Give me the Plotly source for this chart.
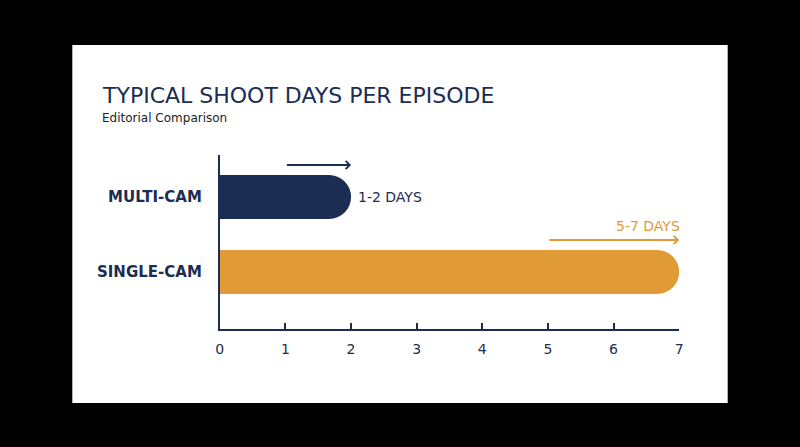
import plotly.graph_objects as go

categories = ["SINGLE-CAM", "MULTI-CAM"]
max_days = [7, 2]
min_days = [5, 1]
range_labels = ["5-7 DAYS", "1-2 DAYS"]
bar_colors = ["#e09b37", "#1b2d52"]
x_ticks = [0, 1, 2, 3, 4, 5, 6, 7]

NAVY = "#1b2d52"
ORANGE = "#e09b37"
FONT = "DejaVu Sans"

W, H = 800, 447
fig = go.Figure()

fig.add_trace(go.Bar(
    y=categories, x=max_days, orientation="h",
    marker=dict(color=bar_colors, cornerradius=22, line=dict(width=0)),
    width=0.587, hoverinfo="skip", showlegend=False,
))

# arrows showing ranges
off = 32 / 75
for i, cat in enumerate(categories):
    col = bar_colors[i]
    fig.add_annotation(
        x=max_days[i], y=i + off, ax=min_days[i], ay=i + off,
        xref="x", yref="y", axref="x", ayref="y",
        showarrow=True, arrowhead=4, arrowsize=0.8, arrowwidth=2,
        arrowcolor=col, text="",
    )

# range labels
fig.add_annotation(x=max_days[1], y=1, xref="x", yref="y", text=range_labels[1],
                   showarrow=False, xanchor="left", yanchor="middle", xshift=5,
                   font=dict(family=FONT, size=14, color=NAVY))
fig.add_annotation(x=max_days[0], y=0 + 46 / 75, xref="x", yref="y", text=range_labels[0],
                   showarrow=False, xanchor="right", yanchor="middle", xshift=3,
                   font=dict(family=FONT, size=14, color=ORANGE))

# title & subtitle
fig.add_annotation(x=97 / W, y=1 - 95 / H, xref="paper", yref="paper",
                   text="TYPICAL SHOOT DAYS PER EPISODE", showarrow=False,
                   xanchor="left", yanchor="middle",
                   font=dict(family=FONT, size=22, color=NAVY))
fig.add_annotation(x=97 / W, y=1 - 118 / H, xref="paper", yref="paper",
                   text="Editorial Comparison", showarrow=False,
                   xanchor="left", yanchor="middle",
                   font=dict(family=FONT, size=12, color="#222222"))

# white card
fig.add_shape(type="rect", xref="paper", yref="paper",
              x0=69 / W, x1=731 / W, y0=1 - 403 / H, y1=1 - 45 / H,
              fillcolor="white", line=dict(width=0), layer="below")

fig.update_layout(
    width=W, height=H,
    margin=dict(l=0, r=0, t=0, b=0),
    paper_bgcolor="black", plot_bgcolor="rgba(0,0,0,0)",
    font=dict(family=FONT, color=NAVY),
    xaxis=dict(domain=[218 / W, 682 / W], range=[0, 7], tickvals=x_ticks,
               showgrid=False, zeroline=False, showline=True, linecolor=NAVY,
               linewidth=2, ticks="inside", ticklen=6, tickwidth=2, tickcolor=NAVY,
               tickfont=dict(family=FONT, size=14, color=NAVY), ticklabelstandoff=6),
    yaxis=dict(domain=[1 - 329 / H, 1 - 155 / H], range=[-0.76, 1.56],
               type="category", categoryarray=categories,
               showgrid=False, zeroline=False, showline=True, linecolor=NAVY,
               linewidth=2, ticks="", ticklabelstandoff=13,
               tickfont=dict(family=FONT, size=15, color=NAVY, weight="bold")),
)

fig.write_html("out.html", config={"displayModeBar": False},
               post_script="document.body.style.margin='0';document.body.style.background='black';")
